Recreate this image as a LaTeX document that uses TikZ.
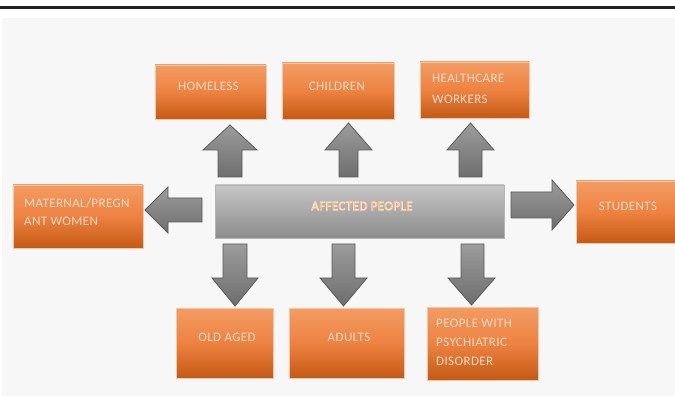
\documentclass[tikz,border=0pt]{standalone}
\usepackage{fontspec}
\newfontfamily\lblfont[LetterSpace=3]{Carlito}
\definecolor{panel}{HTML}{F7F7F7}
\definecolor{topbar}{HTML}{222222}
\definecolor{otop}{HTML}{F39C63}
\definecolor{omid}{HTML}{EE8241}
\definecolor{obot}{HTML}{C45A15}
\definecolor{boxline}{HTML}{F5C7A6}
\definecolor{lbltext}{HTML}{FADCCB}
\definecolor{afftext}{HTML}{F08A3C}
\definecolor{gtop}{HTML}{9C9C9C}
\definecolor{gbot}{HTML}{6E6E6E}
\definecolor{gline}{HTML}{595959}
\definecolor{bartop}{HTML}{C6C6C6}
\definecolor{barbot}{HTML}{8C8C8C}
\definecolor{barline}{HTML}{B4B4B4}
\newcommand\glowtext[1]{\special{pdf:code q 2 Tr 0.7 w 1 0.86 0.72 RG}#1\special{pdf:code Q}}
\begin{document}
\begin{tikzpicture}[x=1pt,y=-1pt,
  obox/.style={draw=boxline, line width=0.6pt, top color=otop, bottom color=obot, middle color=omid, inner sep=0pt},
  gbar/.style={draw=barline, line width=0.6pt, top color=bartop, bottom color=barbot, inner sep=0pt},
  lbl/.style={text=lbltext, font=\lblfont\fontsize{13}{19}\selectfont, inner sep=0pt},
  garrow/.style={draw=gline, line width=0.8pt, top color=gtop, bottom color=gbot, line join=miter}]
\useasboundingbox (0,0) rectangle (675,398);
\fill[white] (0,0) rectangle (675,398);
\fill[topbar] (0,6) rectangle (675,9);
\fill[panel] (2,18) rectangle (675,396);

% boxes
\node[obox, minimum width=111pt, minimum height=54pt] (homeless) at (210.5,92) {};
\node[obox, minimum width=112pt, minimum height=56pt] (children) at (338,91) {};
\node[obox, minimum width=109pt, minimum height=56pt] (health) at (474.5,90) {};
\node[obox, minimum width=130pt, minimum height=63pt] (maternal) at (78,216.5) {};
\node[obox, minimum width=100pt, minimum height=62pt] (students) at (626,212) {};
\node[obox, minimum width=97pt, minimum height=70pt] (oldaged) at (224.5,343) {};
\node[obox, minimum width=115pt, minimum height=70pt] (adults) at (346.5,343) {};
\node[obox, minimum width=111pt, minimum height=73pt] (psych) at (482.5,343.5) {};
\node[gbar, minimum width=289pt, minimum height=53pt] (affected) at (359.5,211.5) {};

% labels
\node[lbl] (homelessT) at (208.5,86) {HOMELESS};
\node[lbl] (childrenT) at (337,86) {CHILDREN};
\node[lbl, align=left, anchor=west, font=\lblfont\fontsize{13}{21}\selectfont] (healthT) at (432,88.5) {HEALTHCARE\\WORKERS};
\node[lbl, align=left, anchor=west, font=\lblfont\fontsize{13}{18}\selectfont] (maternalT) at (24,212.3) {MATERNAL/PREGN\\ANT WOMEN};
\node[lbl] (studentsT) at (628,206.7) {STUDENTS};
\node[lbl] (oldT) at (227,337) {OLD AGED};
\node[lbl] (adultsT) at (349,337) {ADULTS};
\node[lbl, align=left, anchor=west] (psychT) at (436,342.5) {PEOPLE WITH\\PSYCHIATRIC\\DISORDER};
\node[lbl, text=afftext] (affT) at (362,206) {\glowtext{AFFECTED PEOPLE}};

% up arrows
\path[garrow] (230,125) -- (257,150) -- (242,150) -- (242,177) -- (218,177) -- (218,150) -- (203,150) -- cycle;
\path[garrow] (348.5,123) -- (372,150) -- (358,150) -- (358,177) -- (339,177) -- (339,150) -- (325,150) -- cycle;
\path[garrow] (470.5,123) -- (494,150) -- (482,150) -- (482,177) -- (459,177) -- (459,150) -- (447,150) -- cycle;
% down arrows
\path[garrow] (223,244) -- (247,244) -- (247,278) -- (258,278) -- (235,306) -- (212,278) -- (223,278) -- cycle;
\path[garrow] (332,244) -- (355,244) -- (355,278) -- (367,278) -- (343.5,306) -- (320,278) -- (332,278) -- cycle;
\path[garrow] (461,244) -- (484,244) -- (484,278) -- (495,278) -- (471.5,305) -- (448,278) -- (461,278) -- cycle;
% left arrow
\path[garrow] (145,210) -- (168,187) -- (168,198) -- (202,198) -- (202,222) -- (168,222) -- (168,233) -- cycle;
% right arrow
\path[garrow] (511,192) -- (552,192) -- (552,180) -- (574,205) -- (552,230) -- (552,218) -- (511,218) -- cycle;
\end{tikzpicture}
\end{document}
